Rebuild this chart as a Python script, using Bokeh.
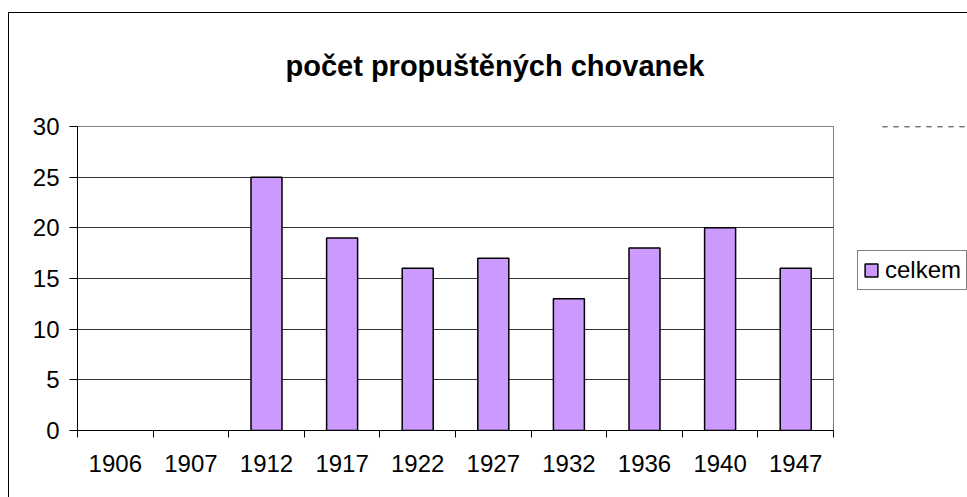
from bokeh.plotting import figure
from bokeh.layouts import row
from bokeh.models import (FixedTicker, LinearAxis, Range1d, ColumnDataSource, InlineStyleSheet)
from bokeh.embed import file_html
from bokeh.resources import INLINE

# ---- data ----
title_text = "počet propuštěných chovanek"
categories = ["1906", "1907", "1912", "1917", "1922", "1927", "1932", "1936", "1940", "1947"]
celkem = [float("nan"), float("nan"), 25, 19, 16, 17, 13, 18, 20, 16]
series_name = "celkem"
y_ticks = [0, 5, 10, 15, 20, 25, 30]

FONT = "Liberation Sans"
BAR_FILL = "#CC99FF"

n = len(categories)
centers = [i + 0.5 for i in range(n)]
bounds = list(range(n + 1))
src = ColumnDataSource(dict(x=centers, top=celkem, cat=categories))

# ---------------- main chart ----------------
p = figure(width=857, height=497, x_range=Range1d(0, n), y_range=Range1d(0, 30),
           output_backend="svg", toolbar_location=None, tools="", title=title_text,
           min_border_left=77, min_border_right=24, min_border_top=126,
           min_border_bottom=67, x_axis_location=None)
p.background_fill_color = "white"
p.border_fill_color = "white"
p.outline_line_color = "#808080"
p.outline_line_width = 1

p.title.align = "left"
p.title.offset = 208
p.title.standoff = 90
p.title.text_font = FONT
p.title.text_font_style = "bold"
p.title.text_font_size = "29px"
p.title.text_color = "black"

p.vbar(x="x", top="top", width=0.41, bottom=0, source=src,
       fill_color=BAR_FILL, line_color="black", line_width=1.5)

p.xgrid.grid_line_color = None
p.ygrid.grid_line_color = "#333333"
p.ygrid.grid_line_width = 1
p.ygrid.ticker = FixedTicker(ticks=y_ticks)

ya = p.yaxis[0]
ya.ticker = FixedTicker(ticks=y_ticks)
ya.axis_line_color = "black"
ya.major_tick_line_color = "black"
ya.major_tick_out = 8
ya.major_tick_in = 0
ya.minor_tick_line_color = None
ya.major_label_standoff = 10
ya.major_label_text_font = FONT
ya.major_label_text_font_size = "24px"
ya.major_label_text_color = "black"

# tick marks at category boundaries
tick_axis = LinearAxis(ticker=FixedTicker(ticks=bounds))
tick_axis.axis_line_color = "black"
tick_axis.major_tick_line_color = "black"
tick_axis.major_tick_out = 7
tick_axis.major_tick_in = 0
tick_axis.minor_tick_line_color = None
tick_axis.major_label_text_font_size = "0px"
tick_axis.major_label_standoff = 0
tick_axis.major_label_text_color = None
p.add_layout(tick_axis, "below")

# category names at centres
lab_axis = LinearAxis(ticker=FixedTicker(ticks=centers),
                      major_label_overrides={c: lab for c, lab in zip(centers, categories)})
lab_axis.axis_line_color = None
lab_axis.major_tick_line_color = None
lab_axis.minor_tick_line_color = None
lab_axis.major_tick_out = 0
lab_axis.major_tick_in = 0
lab_axis.major_label_standoff = 17
lab_axis.major_label_text_font = FONT
lab_axis.major_label_text_font_size = "24px"
lab_axis.major_label_text_color = "black"
p.add_layout(lab_axis, "below")

p.stylesheets = [InlineStyleSheet(css="""
:host::after {
  content: "";
  position: absolute;
  left: 8px; top: 12px; right: 0px; bottom: 0px;
  border-left: 1px solid black;
  border-top: 1px solid black;
  pointer-events: none;
}
""")]

# ---------------- legend strip ----------------
q = figure(width=110, height=497, x_range=Range1d(0, n), y_range=Range1d(-200, -100),
           output_backend="svg", toolbar_location=None, tools="", title=None,
           x_axis_location=None, y_axis_location=None, min_border=0)
q.background_fill_color = "white"
q.border_fill_color = "white"
q.outline_line_color = None
for g in q.grid:
    g.grid_line_color = None
q.vbar(x="x", top="top", width=0.41, bottom=0, source=src,
       fill_color=BAR_FILL, line_color="black", line_width=1.5,
       legend_label=series_name)
lg = q.legend[0]
lg.location = (0, 140)
lg.margin = 0
lg.padding = 5
lg.border_line_color = "black"
lg.border_line_width = 1
lg.background_fill_color = "white"
lg.glyph_width = 16
lg.glyph_height = 16
lg.label_standoff = 6
lg.label_text_font = FONT
lg.label_text_font_size = "24px"
lg.label_text_color = "black"

q.stylesheets = [InlineStyleSheet(css="""
:host::after {
  content: "";
  position: absolute;
  left: 0px; top: 12px; right: 0px; height: 0px;
  border-top: 1px solid black;
  pointer-events: none;
}
""")]

layout = row(p, q, spacing=0)
open("out.html", "w").write(file_html(layout, INLINE))
